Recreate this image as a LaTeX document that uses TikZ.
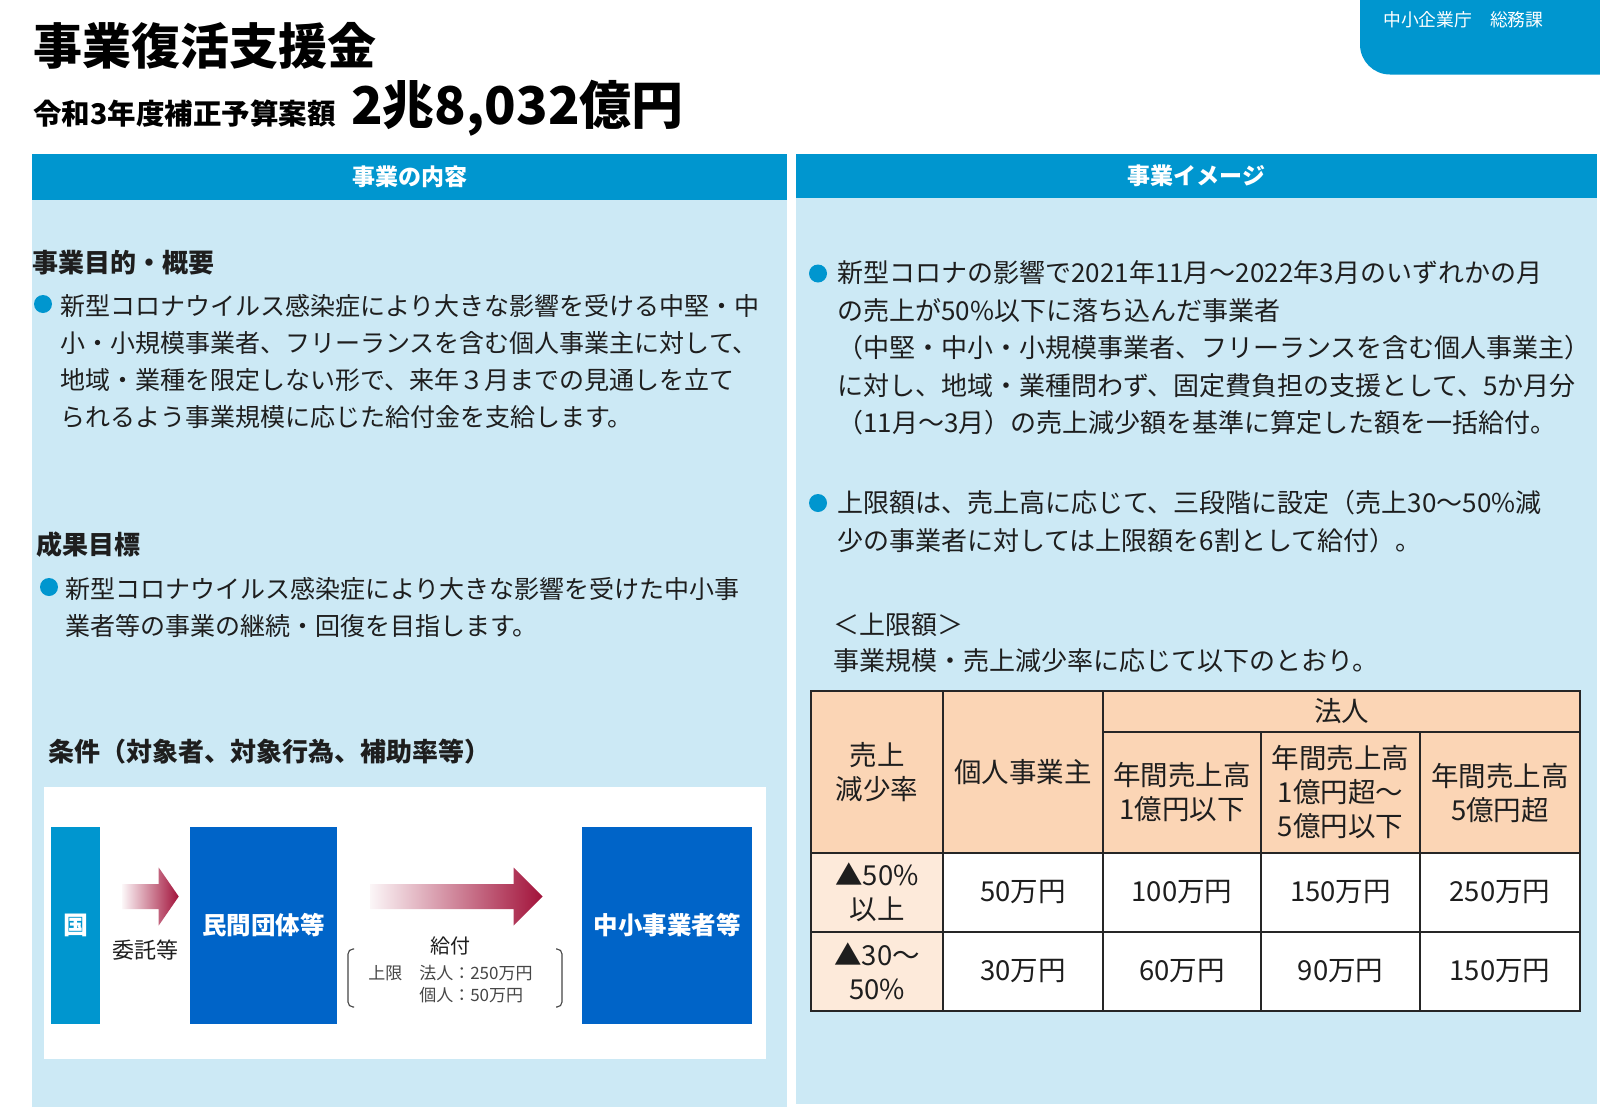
\documentclass[tikz,border=0pt]{standalone}
\usepackage{fontspec}
\setmainfont{Noto Sans CJK JP}
\usetikzlibrary{calc}

\definecolor{hdrblue}{RGB}{0,150,207}
\definecolor{panelblue}{RGB}{204,233,245}
\definecolor{orgblue}{RGB}{0,100,200}
\definecolor{arrowred}{RGB}{162,18,58}
\definecolor{peach}{RGB}{251,213,181}
\definecolor{lightpeach}{RGB}{253,234,218}
\definecolor{bodytext}{RGB}{30,30,30}
\definecolor{capgray}{RGB}{70,70,70}

\newlength\px
\setlength\px{0.025cm}
\newcommand\fsz[2]{\fontsize{#1\px}{#2\px}\selectfont}
\newcommand\blockarrow[3]{%
  \shade[left color=arrowred!4, right color=arrowred]
    ($(#1)+(0,-12.5)$) -- ($(#2)+(-#3,-12.5)$) -- ($(#2)+(-#3,-29)$) -- (#2)
    -- ($(#2)+(-#3,29)$) -- ($(#2)+(-#3,12.5)$) -- ($(#1)+(0,12.5)$) -- cycle;}

\begin{document}
\begin{tikzpicture}[x=0.025cm,y=-0.025cm,
  every node/.append style={inner sep=0pt},
  titletext/.style={anchor=west, font=\bfseries\fsz{49}{56}},
  subtext/.style={anchor=west, font=\bfseries\fsz{28.5}{34}},
  amounttext/.style={anchor=base west, font=\bfseries\fsz{52}{60}},
  tabtext/.style={anchor=west, text=white, font=\fsz{17.8}{22}},
  hdrtext/.style={text=white, font=\bfseries\fsz{23}{28}},
  sechead/.style={anchor=west, text=bodytext, font=\bfseries\fsz{26}{32}},
  bodyL/.style={anchor=north west, align=left, text=bodytext, font=\fsz{25}{36.7}},
  bodyR/.style={anchor=north west, align=left, text=bodytext, font=\fsz{26}{37.5}},
  bullet/.style={circle, fill=hdrblue, minimum size=18\px},
  kunibox/.style={fill=hdrblue, text=white, font=\bfseries\fsz{25}{30}},
  orgbox/.style={fill=orgblue, text=white, font=\bfseries\fsz{24.5}{30}},
  flowlabel/.style={text=bodytext, font=\fsz{22}{26}},
  captext/.style={anchor=north west, align=left, text=capgray, font=\fsz{17}{22}},
  capbracket/.style={draw=capgray, line width=0.8pt, rounded corners=5\px},
  tbltext/.style={align=center, text=bodytext, font=\fsz{27.5}{34}},
  tblline/.style={draw=black!85, line width=1.2pt}]

	\useasboundingbox (0,0) rectangle (1600,1112);
	\fill[white] (0,0) rectangle (1600,1112);

	% title block
	\fill[hdrblue, rounded corners=30\px] (1360,-40) rectangle (1640,74.5);
	\node[tabtext] (tab) at (1383,20) {中小企業庁　総務課};
	\node[titletext] (title) at (33,46) {事業復活支援金};
	\node[subtext] (sub) at (33,114) {令和3年度補正予算案額};
	\node[amounttext] (amount) at ($(sub.base east)+(15,0)$) {2兆8,032億円};

	% panels
	\fill[panelblue] (32,200) rectangle (787,1107);
	\fill[panelblue] (796,198) rectangle (1597,1104);
	\fill[hdrblue] (32,154) rectangle (787,200);
	\fill[hdrblue] (796,154) rectangle (1597,198);
	\node[hdrtext] (hdrL) at (409.5,177) {事業の内容};
	\node[hdrtext] (hdrR) at (1196.5,176) {事業イメージ};

	% left column
	\node[sechead] (purpose) at (32,263) {事業目的・概要};
	\node[bullet] (b1) at (43,304) {};
	\node[bodyL] (p1) at (60,294.5) {新型コロナウイルス感染症により大きな影響を受ける中堅・中\\
		小・小規模事業者、フリーランスを含む個人事業主に対して、\\
		地域・業種を限定しない形で、来年３月までの見通しを立て\\
		られるよう事業規模に応じた給付金を支給します。};
	\node[sechead] (goal) at (36,545) {成果目標};
	\node[bullet] (b2) at (49,587) {};
	\node[bodyL] (p2) at (65,577.5) {新型コロナウイルス感染症により大きな影響を受けた中小事\\
		業者等の事業の継続・回復を目指します。};
	\node[sechead] (cond) at (48,752) {条件（対象者、対象行為、補助率等）};

	% scheme
	\fill[white] (44,787) rectangle (766,1059);
	\node[kunibox, minimum width=49\px, minimum height=197\px] (kuni) at (75.5,925.5) {国};
	\node[orgbox, minimum width=147\px, minimum height=197\px] (minkan) at (263.5,925.5) {民間団体等};
	\node[orgbox, minimum width=170\px, minimum height=197\px] (chusho) at (667,925.5) {中小事業者等};
	\coordinate (a1s) at ($(kuni.east)+(22,-29)$);
	\coordinate (a1e) at ($(minkan.west)+(-11,-29)$);
	\coordinate (a2s) at ($(minkan.east)+(33,-29)$);
	\coordinate (a2e) at ($(chusho.west)+(-39,-29)$);
	\blockarrow{a1s}{a1e}{20}
	\blockarrow{a2s}{a2e}{29}
	\node[flowlabel] (itaku) at ($(kuni.east)!0.5!(minkan.west)+(0,24.5)$) {委託等};
	\node[flowlabel, font=\fsz{20}{24}] (kyufu) at ($(minkan.east)!0.5!(chusho.west)+(-9,20)$) {給付};
	\node[captext] (cap) at (368,964.5) {上限　法人：250万円\\
		\hphantom{上限　}個人：50万円};
	\draw[capbracket] (354,949) -- (348,949) -- (348,1007) -- (354,1007);
	\draw[capbracket] (556,949) -- (562,949) -- (562,1007) -- (556,1007);

	% right column
	\node[bullet] (b3) at (818,273.5) {};
	\node[bodyR] (p3) at (837,260.5) {新型コロナの影響で2021年11月～2022年3月のいずれかの月\\
		の売上が50\%以下に落ち込んだ事業者\\
		（中堅・中小・小規模事業者、フリーランスを含む個人事業主）\\
		に対し、地域・業種問わず、固定費負担の支援として、5か月分\\
		（11月～3月）の売上減少額を基準に算定した額を一括給付。};
	\node[bullet] (b4) at (818,503) {};
	\node[bodyR] (p4) at (837,490) {上限額は、売上高に応じて、三段階に設定（売上30～50\%減\\
		少の事業者に対しては上限額を6割として給付）。};
	\node[bodyR, font=\fsz{26}{35.5}] (p5) at (833,612.5) {＜上限額＞\\
		事業規模・売上減少率に応じて以下のとおり。};

	% table
	\fill[peach] (811,691) rectangle (1580,853);
	\fill[lightpeach] (811,853) rectangle (943,1011);
	\fill[white] (943,853) rectangle (1580,1011);
	\draw[tblline] (811,691) rectangle (1580,1011);
	\draw[tblline] (943,691) -- (943,1011);
	\draw[tblline] (1103,691) -- (1103,1011);
	\draw[tblline] (1261,732) -- (1261,1011);
	\draw[tblline] (1420,732) -- (1420,1011);
	\draw[tblline] (1103,732) -- (1580,732);
	\draw[tblline] (811,853) -- (1580,853);
	\draw[tblline] (811,932) -- (1580,932);
	\node[tbltext] (hrate) at (877,772) {売上\\減少率};
	\node[tbltext] (hkojin) at (1023,772) {個人事業主};
	\node[tbltext] (hhojin) at (1341.5,711.5) {法人};
	\node[tbltext] (hs1) at (1182,792.5) {年間売上高\\1億円以下};
	\node[tbltext] (hs2) at (1340.5,792.5) {年間売上高\\1億円超～\\5億円以下};
	\node[tbltext] (hs3) at (1500,792.5) {年間売上高\\5億円超};
	\node[tbltext] (r1a) at (877,892.5) {▲50\%\\以上};
	\node[tbltext] (r1b) at (1023,892.5) {50万円};
	\node[tbltext] (r1c) at (1182,892.5) {100万円};
	\node[tbltext] (r1d) at (1340.5,892.5) {150万円};
	\node[tbltext] (r1e) at (1500,892.5) {250万円};
	\node[tbltext] (r2a) at (877,971.5) {▲30～\\50\%};
	\node[tbltext] (r2b) at (1023,971.5) {30万円};
	\node[tbltext] (r2c) at (1182,971.5) {60万円};
	\node[tbltext] (r2d) at (1340.5,971.5) {90万円};
	\node[tbltext] (r2e) at (1500,971.5) {150万円};
\end{tikzpicture}
\end{document}
